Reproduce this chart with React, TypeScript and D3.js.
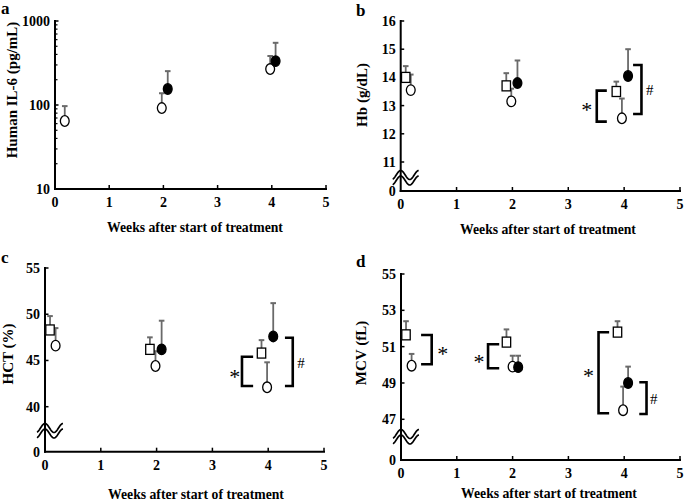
import React from "react";
import * as d3 from "d3";

// ---------- Data ----------
const weekTicks = [0, 1, 2, 3, 4, 5];

// Panel a: Human IL-6 (log scale)
const aTicks = [10, 100, 1000];
const aCircleX = [0.18, 1.97, 3.97];
const aCircleY = [64.5, 92, 268];
const aCircleErr = [97, 138, 383];
const aFilledX = [2.08, 4.07];
const aFilledY = [155, 333];
const aFilledErr = [253, 550];

// Panel b: Hb (g/dL)
const bTicks = [11, 12, 13, 14, 15, 16];
const bSquareX = [0.09, 1.89, 3.86];
const bSquareY = [14.0, 13.7, 13.5];
const bSquareErr = [14.4, 14.15, 13.85];
const bCircleX = [0.18, 1.98, 3.96];
const bCircleY = [13.55, 13.15, 12.55];
const bCircleErr = [14.1, 13.6, 13.25];
const bFilledX = [2.09, 4.07];
const bFilledY = [13.8, 14.05];
const bFilledErr = [14.6, 15.0];

// Panel c: HCT (%)
const cTicks = [40, 45, 50, 55];
const cSquareX = [0.09, 1.88, 3.88];
const cSquareY = [48.3, 46.2, 45.8];
const cSquareErr = [49.8, 47.5, 47.2];
const cCircleX = [0.19, 1.98, 3.98];
const cCircleY = [46.6, 44.4, 42.1];
const cCircleErr = [48.5, 46.0, 44.8];
const cFilledX = [2.09, 4.09];
const cFilledY = [46.2, 47.6];
const cFilledErr = [49.3, 51.2];

// Panel d: MCV (fL)
const dTicks = [47, 49, 51, 53, 55];
const dSquareX = [0.09, 1.89, 3.88];
const dSquareY = [51.65, 51.25, 51.8];
const dSquareErr = [52.4, 51.95, 52.4];
const dCircleX = [0.19, 2.0, 3.98];
const dCircleY = [49.95, 49.9, 47.5];
const dCircleErr = [50.6, 50.5, 48.8];
const dFilledX = [2.1, 4.07];
const dFilledY = [49.87, 49.0];
const dFilledErr = [50.5, 49.9];

// Significance brackets: vertical line x, arm end x, y1, y2, label, label x, label y
type Bracket = { x: number; armX: number; y1: number; y2: number; label: string; lx: number; ly: number };
const bBrackets: Bracket[] = [
  { x: 3.51, armX: 3.69, y1: 13.53, y2: 12.43, label: "*", lx: 3.33, ly: 13.0 },
  { x: 4.31, armX: 4.16, y1: 14.44, y2: 12.7, label: "#", lx: 4.46, ly: 13.55 },
];
const cBrackets: Bracket[] = [
  { x: 3.53, armX: 3.73, y1: 45.4, y2: 42.24, label: "*", lx: 3.4, ly: 43.6 },
  { x: 4.44, armX: 4.3, y1: 47.46, y2: 42.24, label: "#", lx: 4.59, ly: 44.7 },
];
const dBrackets: Bracket[] = [
  { x: 0.55, armX: 0.36, y1: 51.64, y2: 50.03, label: "*", lx: 0.75, ly: 50.8 },
  { x: 1.56, armX: 1.76, y1: 51.13, y2: 49.81, label: "*", lx: 1.4, ly: 50.37 },
  { x: 3.54, armX: 3.73, y1: 51.79, y2: 47.33, label: "*", lx: 3.36, ly: 49.62 },
  { x: 4.4, armX: 4.27, y1: 49.04, y2: 47.29, label: "#", lx: 4.53, ly: 48.12 },
];

// ---------- Styles ----------
const FONT = "'Liberation Serif', 'Times New Roman', serif";
const ERR = "#6a6a6a";

type Series = { xs: number[]; ys: number[]; errs: number[]; kind: "square" | "circle" | "filled" };

type PanelProps = {
  letter: string;
  letterPos: [number, number];
  x0: number;
  x5: number;
  axisY: number;
  yScale: (v: number) => number;
  yTicks: number[];
  minorTicks?: number[];
  yTop: number;
  broken?: number; // wave center
  yTitle: string;
  yTitlePos: [number, number];
  xTitlePos: [number, number];
  series: Series[];
  brackets?: Bracket[];
};

function Panel(p: PanelProps) {
  const x = d3.scaleLinear().domain([0, 5]).range([p.x0, p.x5]);
  const y = p.yScale;
  const ax = p.x0;
  const wave = (yc: number) => {
    const pts: [number, number][] = d3.range(-8, 18.01, 0.5).map((t) => [ax + t, yc - 4.5 * Math.cos((2 * Math.PI * t) / 18)]);
    return d3.line()(pts) as string;
  };
  return (
    <g>
      <text x={p.letterPos[0]} y={p.letterPos[1]} fontFamily={FONT} fontWeight="bold" fontSize={17}>
        {p.letter}
      </text>
      {/* axes */}
      <line x1={ax} x2={ax} y1={p.yTop - 1} y2={p.axisY + 1} stroke="#000" strokeWidth={2} />
      <line x1={ax - 1} x2={x(5) + 1} y1={p.axisY} y2={p.axisY} stroke="#000" strokeWidth={2} />
      {weekTicks.map((t) => (
        <g key={"xt" + t}>
          {t > 0 && <line x1={x(t)} x2={x(t)} y1={p.axisY} y2={p.axisY - 4} stroke="#000" strokeWidth={1.5} />}
          <text x={x(t)} y={p.axisY + 18} textAnchor="middle" fontFamily={FONT} fontWeight="bold" fontSize={14}>
            {t}
          </text>
        </g>
      ))}
      {p.yTicks.map((t) => (
        <g key={"yt" + t}>
          <line x1={ax} x2={ax + 3.5} y1={y(t)} y2={y(t)} stroke="#000" strokeWidth={1.5} />
          <text x={ax - 5} y={y(t) + 5} textAnchor="end" fontFamily={FONT} fontWeight="bold" fontSize={14}>
            {t}
          </text>
        </g>
      ))}
      {(p.minorTicks || []).map((t) => (
        <line key={"mt" + t} x1={ax} x2={ax + 2.5} y1={y(t)} y2={y(t)} stroke="#000" strokeWidth={1.2} />
      ))}
      {p.broken !== undefined && (
        <g>
          <text x={ax - 5} y={p.axisY + 5} textAnchor="end" fontFamily={FONT} fontWeight="bold" fontSize={14}>
            0
          </text>
          <path d={wave(p.broken)} fill="none" stroke="#000" strokeWidth={1.7} />
          <path d={wave(p.broken + 5.5)} fill="none" stroke="#000" strokeWidth={1.7} />
        </g>
      )}
      {/* titles */}
      <text
        transform={`translate(${p.yTitlePos[0]},${p.yTitlePos[1]}) rotate(-90)`}
        textAnchor="middle"
        dominantBaseline="central"
        fontFamily={FONT}
        fontWeight="bold"
        fontSize={15}
      >
        {p.yTitle}
      </text>
      <text x={p.xTitlePos[0]} y={p.xTitlePos[1]} textAnchor="middle" fontFamily={FONT} fontWeight="bold" fontSize={13.7}>
        Weeks after start of treatment
      </text>
      {/* error bars */}
      {p.series.map((s, si) =>
        s.xs.map((xv, i) => (
          <g key={"e" + si + "-" + i}>
            <line x1={x(xv)} x2={x(xv)} y1={y(s.ys[i])} y2={y(s.errs[i])} stroke={ERR} strokeWidth={1.8} />
            <line x1={x(xv) - 2.8} x2={x(xv) + 2.8} y1={y(s.errs[i])} y2={y(s.errs[i])} stroke={ERR} strokeWidth={2} />
          </g>
        ))
      )}
      {/* markers */}
      {p.series.map((s, si) =>
        s.xs.map((xv, i) => {
          const cx = x(xv);
          const cy = y(s.ys[i]);
          if (s.kind === "square")
            return <rect key={"m" + si + "-" + i} x={cx - 4.2} y={cy - 5} width={8.4} height={10} fill="#fff" stroke="#000" strokeWidth={1.3} />;
          return (
            <ellipse
              key={"m" + si + "-" + i}
              cx={cx}
              cy={cy}
              rx={4.4}
              ry={5.3}
              fill={s.kind === "filled" ? "#000" : "#fff"}
              stroke="#000"
              strokeWidth={1.3}
            />
          );
        })
      )}
      {/* brackets */}
      {(p.brackets || []).map((b, i) => (
        <g key={"b" + i}>
          <path
            d={`M${x(b.armX)},${y(b.y1)}H${x(b.x)}V${y(b.y2)}H${x(b.armX)}`}
            fill="none"
            stroke="#000"
            strokeWidth={2.6}
          />
          <text
            x={x(b.lx)}
            y={y(b.ly) + (b.label === "*" ? 11 : 5)}
            textAnchor="middle"
            fontFamily={FONT}
            fontSize={b.label === "*" ? 22 : 15}
          >
            {b.label}
          </text>
        </g>
      ))}
    </g>
  );
}

export default function App() {
  const aY = d3.scaleLog().domain([10, 1000]).range([189, 21]);
  const aMinor: number[] = [];
  [10, 100].forEach((d) => d3.range(2, 10).forEach((k) => aMinor.push(d * k)));
  const bY = d3.scaleLinear().domain([11, 16]).range([162, 21]);
  const cY = d3.scaleLinear().domain([40, 55]).range([406.7, 268]);
  const dY = d3.scaleLinear().domain([47, 55]).range([419.3, 274]);

  return (
    <svg
      width={685}
      height={501}
      style={{ position: "absolute", left: 0, top: 0, background: "#fff" }}
    >
      <rect width={685} height={501} fill="#fff" />
      <Panel
        letter="a"
        letterPos={[1, 14]}
        x0={55}
        x5={326}
        axisY={189}
        yScale={aY}
        yTicks={aTicks}
        minorTicks={aMinor}
        yTop={21}
        yTitle="Human IL-6 (pg/mL)"
        yTitlePos={[12, 90]}
        xTitlePos={[195, 232]}
        series={[
          { xs: aCircleX, ys: aCircleY, errs: aCircleErr, kind: "circle" },
          { xs: aFilledX, ys: aFilledY, errs: aFilledErr, kind: "filled" },
        ]}
      />
      <Panel
        letter="b"
        letterPos={[356, 16]}
        x0={400.7}
        x5={680}
        axisY={191}
        yScale={bY}
        yTicks={bTicks}
        yTop={21}
        broken={175}
        yTitle="Hb (g/dL)"
        yTitlePos={[362, 95]}
        xTitlePos={[548, 234]}
        series={[
          { xs: bSquareX, ys: bSquareY, errs: bSquareErr, kind: "square" },
          { xs: bCircleX, ys: bCircleY, errs: bCircleErr, kind: "circle" },
          { xs: bFilledX, ys: bFilledY, errs: bFilledErr, kind: "filled" },
        ]}
        brackets={bBrackets}
      />
      <Panel
        letter="c"
        letterPos={[1, 263]}
        x0={45}
        x5={324}
        axisY={451.7}
        yScale={cY}
        yTicks={cTicks}
        yTop={268}
        broken={428}
        yTitle="HCT (%)"
        yTitlePos={[8, 354]}
        xTitlePos={[196, 499]}
        series={[
          { xs: cSquareX, ys: cSquareY, errs: cSquareErr, kind: "square" },
          { xs: cCircleX, ys: cCircleY, errs: cCircleErr, kind: "circle" },
          { xs: cFilledX, ys: cFilledY, errs: cFilledErr, kind: "filled" },
        ]}
        brackets={cBrackets}
      />
      <Panel
        letter="d"
        letterPos={[356, 267]}
        x0={401}
        x5={680}
        axisY={460}
        yScale={dY}
        yTicks={dTicks}
        yTop={274}
        broken={434}
        yTitle="MCV (fL)"
        yTitlePos={[361, 353]}
        xTitlePos={[549, 498]}
        series={[
          { xs: dSquareX, ys: dSquareY, errs: dSquareErr, kind: "square" },
          { xs: dCircleX, ys: dCircleY, errs: dCircleErr, kind: "circle" },
          { xs: dFilledX, ys: dFilledY, errs: dFilledErr, kind: "filled" },
        ]}
        brackets={dBrackets}
      />
    </svg>
  );
}
